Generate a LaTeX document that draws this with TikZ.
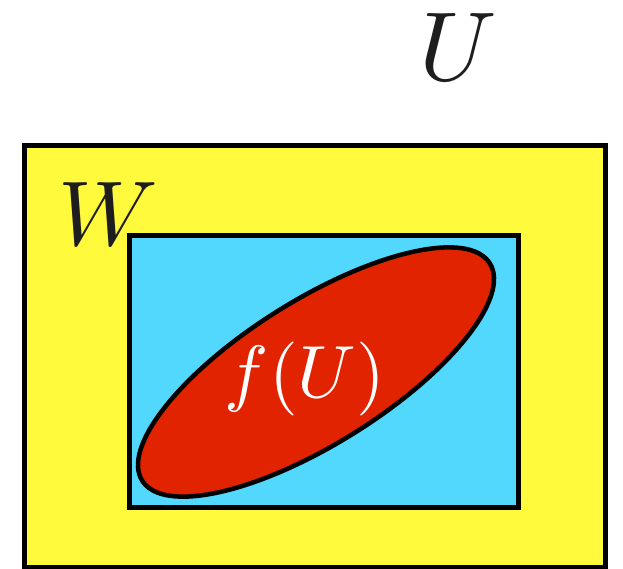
\documentclass[tikz,border=0pt]{standalone}
\definecolor{myyellow}{RGB}{255,250,60}
\definecolor{mycyan}{RGB}{82,215,253}
\definecolor{myred}{RGB}{225,35,0}
\definecolor{mytext}{RGB}{30,30,30}
\begin{document}
\begin{tikzpicture}[x=1pt,y=-1pt,
  region/.style={draw=black,line width=5pt,line join=miter},
  biglabel/.style={inner sep=0pt,text=mytext,anchor=base}]
\useasboundingbox (0,0) rectangle (623,568);
\draw[region,fill=myyellow] (24.5,145) rectangle (605.5,567);
\draw[region,fill=mycyan] (129,235.5) rectangle (518.5,507.5);
\draw[line width=4.5pt,fill=myred] (316,372) ellipse [x radius=205pt, y radius=72pt, rotate=32];
\node[biglabel] (U) at (458,80) {\scalebox{9.8}{$U$}};
\node[biglabel] (W) at (108,245) {\scalebox{9.2}{$W$}};
\node[biglabel,text=white] (fU) at (305,397) {\scalebox{7.4}{$f(U)$}};
\end{tikzpicture}
\end{document}
